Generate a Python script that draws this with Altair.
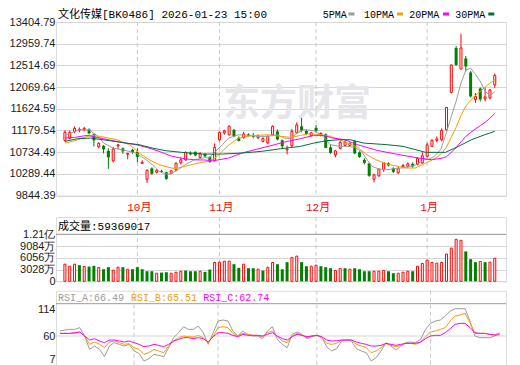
import altair as alt
import pandas as pd

# ---------------- data ----------------
opens = [10976, 11017, 11160, 11181, 11191, 11201, 11099, 10842, 10863, 10760,
         10555, 10863, 10812, 10689, 10781, 10740, 10504, 10176, 10402, 10320,
         10350, 10320, 10299, 10371, 10514, 10576, 10719, 10740, 10627, 10699,
         10637, 10555, 10986, 11129, 11088, 11191, 11027, 11037, 11099, 11088,
         11027, 10955, 10924, 11088, 11160, 10976, 10781, 10863, 11129, 11263,
         11170, 11068, 11232, 11078, 11099, 10832, 10678, 10812, 10873, 10873,
         10955, 10730, 10576, 10504, 10176, 10248, 10381, 10504, 10402, 10309,
         10432, 10443, 10494, 10484, 10514, 10648, 10853, 10976, 10986, 11191,
         11960, 12872, 12441, 12657, 12370, 11816, 12042, 11826, 11847, 12113]
closes = [11140, 11140, 11222, 11201, 11222, 11119, 10976, 10914, 10791, 10627,
          10801, 10883, 10750, 10709, 10730, 10637, 10525, 10361, 10289, 10361,
          10330, 10186, 10350, 10504, 10576, 10730, 10689, 10668, 10709, 10648,
          10535, 10832, 11140, 11170, 11263, 11058, 10965, 11109, 11078, 11047,
          11068, 11017, 11058, 11263, 10996, 10853, 10801, 11160, 11293, 11181,
          11109, 11129, 11170, 11119, 10822, 10719, 10760, 10935, 10945, 10914,
          10709, 10637, 10514, 10248, 10268, 10381, 10514, 10463, 10330, 10402,
          10463, 10494, 10443, 10607, 10658, 10883, 10976, 11006, 11181, 11652,
          12523, 12523, 12872, 12493, 11878, 11878, 11816, 11867, 12011, 12308]
highs = [11181, 11181, 11263, 11242, 11252, 11222, 11119, 10935, 10883, 10812,
         10842, 10904, 10832, 10719, 10801, 10812, 10566, 10381, 10422, 10381,
         10371, 10330, 10361, 10525, 10627, 10750, 10750, 10750, 10730, 10709,
         10648, 10914, 11160, 11195, 11283, 11211, 11058, 11150, 11119, 11129,
         11099, 11037, 11078, 11283, 11201, 10996, 10873, 11211, 11345, 11437,
         11201, 11150, 11293, 11140, 11119, 10894, 10781, 10965, 10976, 10935,
         10976, 10750, 10607, 10514, 10289, 10402, 10535, 10525, 10422, 10422,
         10484, 10525, 10525, 10627, 10730, 10924, 10996, 11058, 11222, 11662,
         12534, 12913, 13159, 12708, 12400, 11949, 12062, 12062, 12031, 12349]
lows = [10955, 10996, 11119, 11140, 11160, 11099, 10853, 10812, 10709, 10391,
        10525, 10791, 10699, 10586, 10699, 10525, 10494, 10104, 10268, 10299,
        10309, 10166, 10279, 10340, 10484, 10555, 10668, 10648, 10607, 10627,
        10514, 10545, 10955, 11092, 11078, 11037, 10955, 11006, 11058, 11017,
        11006, 10935, 10894, 11068, 10976, 10812, 10689, 10832, 11119, 11140,
        11088, 11058, 11140, 11058, 10812, 10699, 10627, 10791, 10853, 10853,
        10689, 10617, 10484, 10227, 10115, 10227, 10330, 10443, 10309, 10289,
        10412, 10412, 10412, 10463, 10494, 10637, 10842, 10935, 10955, 11181,
        11939, 12503, 12431, 12390, 11857, 11744, 11775, 11775, 11816, 12052]

# volume in 万 (10k) units, and colour of each volume bar (1 = red / up)
volumes = [4412, 3893, 4412, 4152, 3806, 3806, 3979, 3547, 3114, 3633,
           2855, 3633, 3633, 3114, 3114, 3633, 3114, 2595, 2595, 2076,
           2249, 2336, 2076, 2336, 2595, 2768, 2595, 2595, 2595, 2422,
           3028, 4844, 4931, 5190, 5190, 4412, 3460, 4412, 3374, 3374,
           3114, 2768, 3633, 4844, 4412, 3114, 4931, 6142, 6488, 4931,
           3893, 3893, 4152, 3893, 3633, 3374, 2768, 3287, 3374, 3114,
           3374, 3114, 2595, 2595, 2595, 2595, 2768, 2595, 2076, 2076,
           2336, 2595, 2595, 3893, 4585, 5450, 4844, 4671, 4844, 7007,
           8564, 10813, 10553, 7699, 5709, 4931, 5104, 4931, 4931, 5937]
vol_up = [1, 1, 1, 0, 1, 0, 0, 1, 0, 0,
          1, 1, 0, 1, 0, 0, 0, 0, 0, 1,
          0, 0, 1, 1, 1, 0, 0, 0, 1, 0,
          0, 1, 1, 1, 1, 0, 0, 1, 0, 0,
          1, 0, 1, 1, 0, 0, 0, 1, 1, 0,
          0, 1, 1, 0, 0, 0, 1, 1, 0, 1,
          0, 0, 0, 0, 1, 1, 1, 0, 0, 1,
          1, 1, 0, 1, 1, 1, 1, 1, 1, 1,
          1, 1, 1, 0, 0, 0, 1, 0, 1, 1]
vol_last_raw = 59369017

rsi_a = [70.4, 72.4, 73.8, 73.8, 77.3, 60, 32.4, 39.3, 32.4, 17.2,
         39.3, 46.2, 42.8, 39.3, 42.8, 29, 24.1, 8.3, 13.1, 22,
         20, 17.2, 35.9, 56.6, 66.9, 79.3, 73.8, 73.8, 80.7, 66.9,
         42.8, 66.9, 91, 93.1, 91, 70.4, 60, 70.4, 63.5, 60,
         60, 54.5, 70.4, 79.3, 53.1, 42.8, 35.9, 63.5, 68.3, 63.5,
         54.5, 58.6, 61.4, 56.6, 37.9, 29, 33.8, 49.7, 51.7, 49.7,
         33.8, 29, 25.5, 8.3, 15.2, 29, 46.2, 39.3, 31, 39.3,
         46.2, 47.6, 46.2, 53.1, 73.8, 86.2, 91, 93.1, 101.4, 111.8,
         116.6, 116.6, 116.6, 91, 60, 56.6, 56.6, 56.6, 60, 66.49]
rsi_b = [65.5, 65.5, 65.5, 65.5, 68.3, 60, 42.8, 47.6, 42.8, 35.9,
         47.6, 49.7, 46.2, 42.8, 44.1, 35.9, 32.4, 22, 25.5, 32.4,
         29, 25.5, 39.3, 49.7, 56.6, 60, 58.6, 57.9, 61.4, 56.6,
         46.2, 60, 77.3, 79.3, 77.3, 65.5, 60, 65.5, 63.5, 61.4,
         61.4, 58.6, 66.9, 70.4, 58.6, 49.7, 46.2, 60, 65.5, 61.4,
         56.6, 60, 61.4, 56.6, 44.8, 42.8, 44.8, 51.7, 51.7, 51.7,
         42.8, 39.3, 35.9, 25.5, 29, 35.9, 44.8, 40.7, 37.9, 40.7,
         44.8, 44.8, 42.8, 47.6, 58.6, 68.3, 70.4, 73.8, 77.3, 91,
         101.4, 103.5, 106.9, 87.6, 65.5, 65.5, 65.5, 63.5, 63, 65.51]
rsi_c = [65.5, 65.5, 65.5, 66.9, 68.3, 60, 51.7, 54.5, 49.7, 46.2,
         51.7, 51.7, 49.7, 47.6, 49.7, 46.2, 42.8, 37.9, 39.3, 42.8,
         40.7, 37.9, 42.8, 49.7, 53.1, 56.6, 56.6, 54.5, 56.6, 54.5,
         47.6, 58.6, 66.9, 66.9, 65.5, 61.4, 58.6, 63.5, 61.4, 61.4,
         61.4, 60, 63.5, 66.9, 60, 54.5, 51.7, 58.6, 63.5, 61.4,
         58.6, 60, 61.4, 58.6, 51.7, 49.7, 50.3, 51.7, 51.7, 51.7,
         47.6, 44.8, 42.8, 39.3, 39.3, 40.7, 44.8, 42.8, 40.7, 42.8,
         44.8, 44.8, 44.8, 47.6, 54.5, 60, 61.4, 61.4, 66.9, 75.2,
         84.2, 86.2, 86.2, 77.3, 66.9, 65.5, 65.5, 63.5, 62, 62.74]

# moving averages (bar index, value)
ma5_x = [0, 1, 3, 5, 7, 8, 10, 12.7, 14.7, 16.8, 18.1, 19.5, 20.8, 21.8, 23.5, 24.9, 26.9,
         28.9, 29.9, 31.2, 32.6, 33.9, 36, 38, 40, 42, 44, 45.4, 46.8, 48.1, 49.5, 51.5,
         53.5, 54.9, 56.9, 58.5, 60, 61.5, 62.3, 63.6, 65, 66.5, 68, 70, 72.5, 74.4, 75.4,
         76.5, 77.8, 79, 80, 81, 82, 83, 84, 85, 86, 87, 88, 89]
ma5_v = [11078, 11119, 11191, 11191, 11047, 10920, 10818, 10764, 10715, 10580, 10477, 10340,
         10285, 10285, 10375, 10477, 10580, 10621, 10613, 10750, 10887, 11023, 11091, 11078,
         11058, 11058, 11091, 11023, 11010, 11125, 11195, 11174, 11058, 10887, 10853, 10853,
         10832, 10740, 10613, 10443, 10387, 10371, 10391, 10412, 10463, 10580, 10586, 10648,
         10785, 11140, 11468, 11777, 12150, 12413, 12458, 12329, 12187, 11986, 11890, 11976]
ma10_x = [0, 2, 5.3, 7.3, 10.7, 13.4, 15.4, 17.4, 19.5, 21.5, 22.8, 24.9, 27.6, 29.6, 31, 32,
          34, 36, 38.7, 42, 44.7, 46.8, 48.8, 50.8, 52.8, 55, 57.7, 60.5, 62.5, 64.3, 67,
          70.5, 72.5, 74, 75, 76, 77, 78, 79, 80, 81, 82, 83, 84, 85, 86, 87, 88, 89]
ma10_v = [10920, 10969, 11078, 11058, 10990, 10887, 10715, 10580, 10477, 10422, 10395, 10443,
          10510, 10545, 10607, 10695, 10887, 11023, 11072, 11091, 11058, 11037, 11078, 11115,
          11091, 11058, 10955, 10842, 10682, 10580, 10484, 10408, 10408, 10475, 10526, 10572,
          10626, 10711, 10836, 11042, 11245, 11488, 11677, 11799, 11898, 11982, 12068, 12151,
          12217]
ma20_x = [0, 2, 4.6, 8, 11.3, 14.7, 17.4, 19.5, 22.2, 24.9, 27, 29, 30.6, 33.9, 36.6, 40,
          43.4, 46, 48.8, 51.5, 53.5, 55.5, 57.9, 60.6, 64.6, 69.2, 73.2, 75.9, 77.9, 79,
          80, 81, 82, 83, 84, 85, 86, 87, 88, 89]
ma20_v = [11023, 11037, 11078, 11010, 10941, 10887, 10818, 10750, 10648, 10596, 10576,
          10572, 10555, 10613, 10715, 10801, 10887, 10955, 11010, 11078, 11078, 11023, 10990,
          10887, 10771, 10682, 10613, 10580, 10605, 10641, 10732, 10826, 10945, 11058, 11137,
          11211, 11277, 11346, 11431, 11527]
ma30_x = [0, 2.6, 5.3, 9.3, 12.7, 15.4, 18.1, 20.8, 24.2, 28.5, 32.6, 36.6, 40.7, 44.7, 48.8,
          51.5, 54.2, 56.9, 59, 61.9, 66.7, 70, 74.7, 78.8, 81.5, 84.2, 86.9, 89]
ma30_v = [10955, 11010, 11023, 10969, 10920, 10887, 10818, 10764, 10730, 10695, 10695, 10715,
          10750, 10805, 10853, 10920, 10969, 10990, 10990, 10920, 10887, 10853, 10730, 10730,
          10853, 10990, 11091, 11160]

month_idx = [15, 32, 52, 75]
month_labels = ["10月", "11月", "12月", "1月"]
price_ticks = [9844.39, 10289.44, 10734.49, 11179.54, 11624.59, 12069.64, 12514.69,
               12959.74, 13404.79]
vol_ticks = [0, 3028, 6056, 9084, 12112]
vol_tick_labels = ["0", "3028万", "6056万", "9084万", "1.21亿"]
rsi_ticks = [7, 60, 114]
title_text = "文化传媒[BK0486] 2026-01-23 15:00"
ma_names = ["5PMA", "10PMA", "20PMA", "30PMA"]

# ---------------- styles ----------------
RED = "#ff0000"
GREEN = "#008000"
MA_COLORS = ["#9c9c9c", "#f5a000", "#ff00ff", "#00703a"]
GRID = "#d6d6d6"
BORDER = "#9a9a9a"
MONO = "Liberation Mono, Noto Sans CJK SC, monospace"
LABEL_FONT = "Liberation Sans, Arial, sans-serif"
W = 450

n = len(closes)
df = pd.DataFrame({"i": list(range(n)), "o": opens, "c": closes, "h": highs, "l": lows,
                   "vol": volumes, "vup": vol_up, "ra": rsi_a, "rb": rsi_b, "rc": rsi_c})
df["up"] = (df["c"] >= df["o"]).astype(int)
months = pd.DataFrame({"i": month_idx, "lbl": month_labels})

XS = alt.Scale(domain=[-0.81, 90.29], nice=False, zero=False)
X = alt.X("i:Q", scale=XS, axis=None)

# ---- main price panel ----
PS = alt.Scale(domain=[price_ticks[0], price_ticks[-1]], nice=False, zero=False)
PA = alt.Axis(values=price_ticks, format=".2f", grid=True, gridColor=GRID, ticks=False,
              domain=False, labelFontSize=11, labelFont=LABEL_FONT, labelColor="#1a1a1a",
              labelPadding=1, labelOverlap=False, labelFlush=False, title=None)


def py(field):
    return alt.Y(f"{field}:Q", scale=PS, axis=PA, title=None)


base = alt.Chart(df)
one = pd.DataFrame({"k": [0]})

watermark = alt.Chart(one).mark_text(text="东方财富", font="Noto Sans CJK SC", fontSize=37,
                                     fontWeight="bold", color="#e6e6ea").encode(
    x=alt.value(241), y=alt.value(83))
mrules = alt.Chart(months).mark_rule(color="#c8c8c8", strokeDash=[4, 3]).encode(x=X)

wick_up = base.transform_filter("datum.up == 1").mark_rule(color=RED).encode(
    x=X, y=py("h"), y2="l:Q")
wick_dn = base.transform_filter("datum.up == 0").mark_rule(color=GREEN).encode(
    x=X, y=py("h"), y2="l:Q")
body_up = base.transform_filter("datum.up == 1").mark_bar(
    size=2, fill="white", stroke=RED, strokeWidth=1).encode(x=X, y=py("o"), y2="c:Q")
body_dn = base.transform_filter("datum.up == 0").mark_bar(size=3, color=GREEN).encode(
    x=X, y=py("o"), y2="c:Q")

ma_layers = []
for xs, vs, col in zip([ma5_x, ma10_x, ma20_x, ma30_x], [ma5_v, ma10_v, ma20_v, ma30_v],
                       MA_COLORS):
    ma_layers.append(alt.Chart(pd.DataFrame({"i": xs, "v": vs})).mark_line(
        color=col, strokeWidth=1).encode(x=X, y=py("v")))

title = alt.Chart(pd.DataFrame({"t": [title_text]})).mark_text(
    align="left", baseline="alphabetic", font=MONO, fontSize=11, color="#000").encode(
    x=alt.value(2), y=alt.value(-4), text="t:N")

legend_text_x = [266.7, 308, 353.3, 399.3]
legend_sw_x = [295.5, 344, 390, 435.3]
legend_layers = []
for name, col, tx, sx in zip(ma_names, MA_COLORS, legend_text_x, legend_sw_x):
    legend_layers.append(alt.Chart(pd.DataFrame({"t": [name]})).mark_text(
        align="left", baseline="alphabetic", font=MONO, fontSize=10, color="#000").encode(
        x=alt.value(tx), y=alt.value(-4), text="t:N"))
    legend_layers.append(alt.Chart(one).mark_rect(color=col).encode(
        x=alt.value(sx - 3), x2=alt.value(sx + 3), y=alt.value(-9.5), y2=alt.value(-6.5)))

month_text = alt.Chart(months).mark_text(font=MONO, fontSize=11, color=RED, dx=2).encode(
    x=X, y=alt.value(185.5), text="lbl:N")

panel1 = alt.layer(watermark, mrules, wick_up, wick_dn, body_up, body_dn, *ma_layers,
                   title, *legend_layers, month_text).properties(width=W, height=173.5)

# ---- volume panel ----
VS = alt.Scale(domain=[0, 16570], nice=False, zero=True)
lab_expr = "".join(f"datum.value == {v} ? '{t}' : " for v, t in zip(vol_ticks, vol_tick_labels)) + "''"
VA = alt.Axis(values=vol_ticks, labelExpr=lab_expr, grid=True, gridColor=GRID, ticks=False,
              domain=False, labelFontSize=11, labelFont=LABEL_FONT, labelColor="#1a1a1a",
              labelPadding=1, labelOverlap=False, labelFlush=False, title=None)
vy = lambda f: alt.Y(f"{f}:Q", scale=VS, axis=VA, title=None)

vol_div = alt.Chart(pd.DataFrame({"v": [vol_ticks[-1]]})).mark_rule(color=BORDER).encode(y=vy("v"))
vol_up_bars = base.transform_filter("datum.vup == 1").mark_bar(
    size=2, fill="white", stroke=RED, strokeWidth=1).encode(x=X, y=vy("vol"))
vol_dn_bars = base.transform_filter("datum.vup == 0").mark_bar(size=3, color=GREEN).encode(
    x=X, y=vy("vol"))
vol_title = alt.Chart(pd.DataFrame({"t": [f"成交量:{vol_last_raw}"]})).mark_text(
    align="left", baseline="middle", font=MONO, fontSize=11, color="#000").encode(
    x=alt.value(2), y=alt.value(9.5), text="t:N")
panel2 = alt.layer(mrules, vol_div, vol_up_bars, vol_dn_bars, vol_title).properties(
    width=W, height=64.3)

# ---- RSI panel ----
RS = alt.Scale(domain=[-3.5, 153.8], nice=False, zero=False)
RA = alt.Axis(values=rsi_ticks, grid=False, ticks=False, domain=False, labelFontSize=11,
              labelFont=LABEL_FONT, labelColor="#1a1a1a", labelPadding=1, labelOverlap=False,
              labelFlush=False, title=None,
              labelOffset=alt.condition(f"datum.value == {rsi_ticks[0]}",
                                        alt.value(-2.5), alt.value(0)))
ry = lambda f: alt.Y(f"{f}:Q", scale=RS, axis=RA, title=None)

rsi_mid = alt.Chart(pd.DataFrame({"v": [rsi_ticks[1]]})).mark_rule(color=GRID).encode(y=ry("v"))
rsi_div = alt.Chart(pd.DataFrame({"v": [126.9]})).mark_rule(color=BORDER).encode(y=ry("v"))
rsi_lines = [base.mark_line(color=col, strokeWidth=1).encode(x=X, y=ry(f))
             for f, col in zip(["ra", "rb", "rc"], [MA_COLORS[0], MA_COLORS[1], MA_COLORS[2]])]
rsi_titles = []
for name, vals, col, tx in zip(["RSI_A", "RSI_B", "RSI_C"], [rsi_a, rsi_b, rsi_c],
                               [MA_COLORS[0], MA_COLORS[1], MA_COLORS[2]], [2, 75, 147.3]):
    rsi_titles.append(alt.Chart(pd.DataFrame({"t": [f"{name}:{vals[-1]:.2f}"]})).mark_text(
        align="left", baseline="middle", font=MONO, fontSize=10, color=col).encode(
        x=alt.value(tx), y=alt.value(7), text="t:N"))
panel3 = alt.layer(mrules, rsi_mid, rsi_div, *rsi_lines, *rsi_titles).properties(
    width=W, height=76)

bottom = alt.vconcat(panel2, panel3, spacing=8.7, bounds="flush")
chart = alt.vconcat(panel1, bottom, spacing=21, bounds="flush").properties(
    padding={"left": 0, "top": 0, "right": 0, "bottom": 0}
).configure_view(stroke=BORDER, strokeWidth=1).configure(background="white")

chart.save("out.html", embed_options={"renderer": "svg", "actions": False})
